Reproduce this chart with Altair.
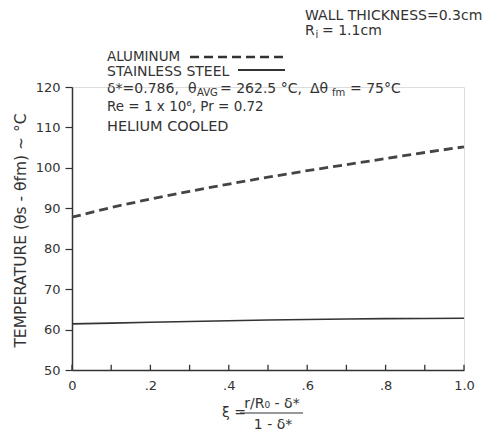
import altair as alt
import pandas as pd

xi = [0.0, 0.1, 0.2, 0.3, 0.4, 0.5, 0.6, 0.7, 0.8, 0.9, 1.0]
aluminum = [87.8, 90.2, 92.3, 94.2, 96.0, 97.7, 99.3, 100.8, 102.3, 103.8, 105.2]
steel = [61.4, 61.6, 61.8, 62.0, 62.2, 62.35, 62.5, 62.6, 62.7, 62.75, 62.8]
x_ticks = [0.0, 0.1, 0.2, 0.3, 0.4, 0.5, 0.6, 0.7, 0.8, 0.9, 1.0]
y_ticks = [50, 60, 70, 80, 90, 100, 110, 120]

FONT = "DejaVu Sans"
INK = "#333333"

df = pd.DataFrame({"xi": xi, "al": aluminum, "ss": steel})
ticks_df = pd.DataFrame({"t": x_ticks})

xscale = alt.Scale(domain=[0, 1.0], nice=False)
yscale = alt.Scale(domain=[50, 120], nice=False)

xaxis = alt.Axis(values=x_ticks, labelExpr="datum.value == 0 ? '0' : datum.value == 1 ? '1.0' : replace(format(datum.value, '.1f'), '0.', '.')",
                 ticks=False, labelPadding=9, labelFontSize=13, labelFont=FONT, labelColor=INK,
                 labelOverlap=False, labelFlush=False,
                 domainColor=INK, domainWidth=1.5, grid=False, title=None)
yaxis = alt.Axis(values=y_ticks, tickSize=7, tickColor=INK, tickWidth=1.2, labelFontSize=13, labelFont=FONT, labelColor=INK,
                 labelOverlap=False, labelFlush=False,
                 labelPadding=5, domainColor=INK, domainWidth=1.5, grid=False,
                 title="TEMPERATURE (θs - θfm) ~ °C", titleFont=FONT, titleFontSize=15.5, titleFontWeight="normal",
                 titleColor=INK, titleAngle=270, titleX=-52, titleY=143, titleAlign="center", titleBaseline="middle")

base = alt.Chart(df)
al_line = base.mark_line(color="#444444", strokeWidth=2.8, strokeDash=[9, 5]).encode(
    x=alt.X("xi:Q", scale=xscale, axis=xaxis), y=alt.Y("al:Q", scale=yscale, axis=yaxis))
ss_line = base.mark_line(color=INK, strokeWidth=1.6).encode(
    x=alt.X("xi:Q", scale=xscale), y=alt.Y("ss:Q", scale=yscale))
tick_marks = alt.Chart(ticks_df).mark_rule(color=INK, strokeWidth=1.3).encode(
    x=alt.X("t:Q", scale=xscale), y=alt.datum(50), y2=alt.datum(51.3))


def txt(s, x, y, size=14, align="left", baseline="alphabetic"):
    return alt.Chart(pd.DataFrame({"s": [s]})).mark_text(
        align=align, baseline=baseline, font=FONT, fontSize=size, color=INK).encode(
        text="s:N", x=alt.value(x), y=alt.value(y))


def rule(x1, x2, y, dash=None, width=1.6):
    kw = dict(color=INK, strokeWidth=width)
    if dash:
        kw["strokeDash"] = dash
    return alt.Chart(pd.DataFrame({"a": [0]})).mark_rule(**kw).encode(
        x=alt.value(x1), x2=alt.value(x2), y=alt.value(y))


annotations = [
    txt("WALL THICKNESS=0.3cm", 233, -67, size=14),
    txt("R", 233, -52, size=14),
    txt("i", 243.5, -49, size=10),
    txt("= 1.1cm", 250, -52, size=14),
    txt("ALUMINUM", 35, -26, size=13.5),
    rule(118, 213, -30, dash=[9, 5], width=2.4),
    txt("STAINLESS STEEL", 35, -11, size=14),
    rule(166, 213, -17, width=1.8),
    txt("δ*=0.786,", 35, 6),
    txt("θ", 116, 6),
    txt("AVG", 125, 9, size=10),
    txt("= 262.5 °C,", 148, 6),
    txt("Δθ", 238, 6),
    txt("fm", 260, 9, size=10),
    txt("= 75°C", 278, 6),
    txt("Re = 1 x 10⁶,  Pr = 0.72", 35, 24, size=13.5),
    txt("HELIUM COOLED", 35, 44, size=14.5),
    txt("ξ =", 150, 326, size=14, baseline="middle"),
    txt("r/R₀ - δ*", 200, 321, size=14, align="center"),
    rule(168, 231, 326, width=1.2),
    txt("1 - δ*", 201, 342, size=14, align="center"),
]

chart = alt.layer(al_line, ss_line, tick_marks, *annotations).properties(
    width=392, height=283,
    autosize=alt.AutoSizeParams(type="none"),
    padding={"left": 64, "top": 79, "right": 23, "bottom": 63},
).configure_view(stroke=None).configure(background="white")

chart.save("out.html", embed_options={"renderer": "svg", "actions": False})
